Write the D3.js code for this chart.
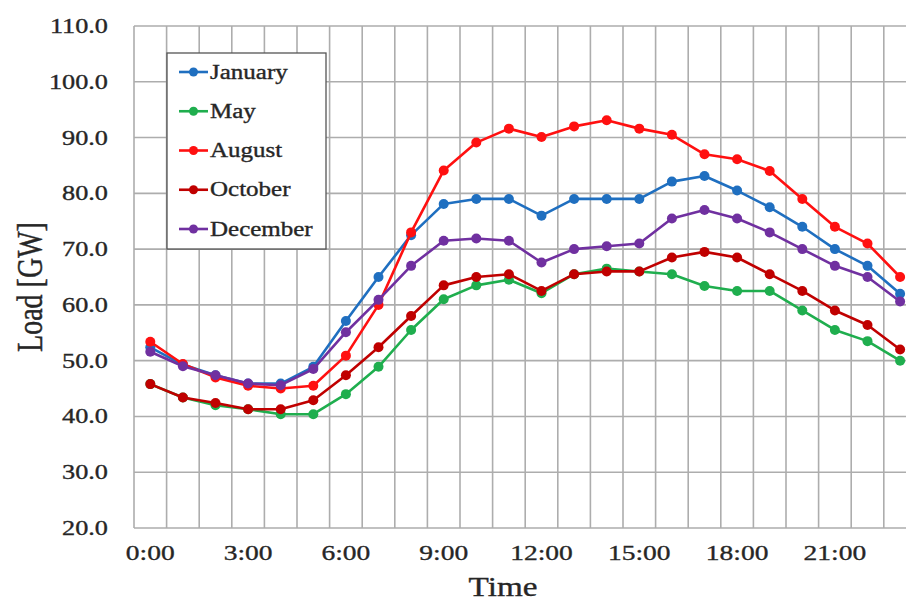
<!DOCTYPE html>
<html>
<head>
<meta charset="utf-8">
<script src="https://cdn.jsdelivr.net/npm/d3@7"></script>
<style>
  html, body { margin: 0; padding: 0; background: #fff; }
  svg { display: block; }
  text { font-family: "Liberation Serif", "Times New Roman", serif; fill: #262626; stroke: #262626; stroke-width: 0.35px; }
</style>
</head>
<body>
<svg id="chart" width="906" height="601"></svg>
<script>
// Hourly load profiles per month (GW)
const hours = d3.range(0, 24);
const hourTicks = [0, 3, 6, 9, 12, 15, 18, 21];
const yTicks = [20, 30, 40, 50, 60, 70, 80, 90, 100, 110];

const january  = [52.4, 49.3, 47.4, 45.9, 45.9, 48.9, 57.1, 65.0, 72.5, 78.1, 79.0, 79.0, 76.0, 79.0, 79.0, 79.0, 82.1, 83.1, 80.5, 77.5, 74.0, 70.0, 67.0, 62.0];
const may      = [45.8, 43.4, 42.0, 41.3, 40.4, 40.4, 44.0, 48.9, 55.5, 61.0, 63.5, 64.5, 62.1, 65.5, 66.5, 66.0, 65.5, 63.4, 62.5, 62.5, 59.0, 55.5, 53.5, 50.0];
const august   = [53.4, 49.4, 47.0, 45.5, 45.0, 45.5, 50.9, 60.0, 73.0, 84.1, 89.1, 91.6, 90.1, 92.0, 93.1, 91.6, 90.5, 87.0, 86.1, 84.0, 79.0, 74.0, 71.0, 65.0];
const october  = [45.8, 43.4, 42.4, 41.3, 41.3, 42.9, 47.4, 52.4, 58.0, 63.5, 65.0, 65.5, 62.5, 65.5, 66.0, 66.0, 68.5, 69.5, 68.5, 65.5, 62.5, 59.0, 56.4, 52.0];
const december = [51.6, 49.0, 47.4, 45.9, 45.6, 48.5, 55.1, 60.9, 67.0, 71.5, 71.9, 71.5, 67.6, 70.0, 70.5, 71.0, 75.5, 77.0, 75.5, 73.0, 70.0, 67.0, 65.0, 60.6];

const seriesNames  = ["January", "May", "August", "October", "December"];
const seriesValues = [january, may, august, october, december];
const seriesColors = ["#1f6fc0", "#1fae4e", "#ff1010", "#c00000", "#7030a0"];

const svg = d3.select("#chart");

const plotLeft = 134, plotTop = 26, plotBottom = 528;
const bandW = 32.6;
const x = d3.scaleBand().domain(hours).range([plotLeft, plotLeft + bandW * hours.length]).padding(0);
const cx = h => x(h) + x.bandwidth() / 2;
const y = d3.scaleLinear().domain([20, 110]).range([plotBottom, plotTop]);

// Text is drawn slightly wide, as in the original export
const SX = 1.25;

// Grid
const grid = svg.append("g").attr("stroke", "#adadad").attr("stroke-width", 1.6);
grid.selectAll("line.h").data(yTicks).join("line")
  .attr("class", "h")
  .attr("x1", plotLeft).attr("x2", x.range()[1])
  .attr("y1", d => y(d)).attr("y2", d => y(d));
const vEdges = hours.map(h => x(h)).concat([x.range()[1]]);
grid.selectAll("line.v").data(vEdges).join("line")
  .attr("class", "v")
  .attr("x1", d => d).attr("x2", d => d)
  .attr("y1", plotTop).attr("y2", plotBottom);

// Y tick labels
svg.append("g").selectAll("text").data(yTicks).join("text")
  .attr("transform", d => `translate(108,${y(d) + 7}) scale(${SX},1)`)
  .attr("text-anchor", "end")
  .attr("font-size", 21)
  .text(d => d3.format(".1f")(d));

// X tick labels
svg.append("g").selectAll("text").data(hourTicks).join("text")
  .attr("transform", d => `translate(${cx(d)},560) scale(${SX},1)`)
  .attr("text-anchor", "middle")
  .attr("font-size", 22)
  .text(d => `${d}:00`);

// Axis titles
svg.append("text")
  .attr("transform", `translate(42,287) scale(${SX},1) rotate(-90)`)
  .attr("text-anchor", "middle")
  .attr("font-size", 28)
  .text("Load [GW]");

svg.append("text")
  .attr("transform", `translate(503,596) scale(1.23,1)`)
  .attr("text-anchor", "middle")
  .attr("font-size", 27)
  .text("Time");

// Series
const line = d3.line().x((d, i) => cx(hours[i])).y(d => y(d));
seriesValues.forEach((vals, k) => {
  const g = svg.append("g");
  g.append("path")
    .attr("d", line(vals))
    .attr("fill", "none")
    .attr("stroke", seriesColors[k])
    .attr("stroke-width", 2.6)
    .attr("stroke-linejoin", "round");
  g.selectAll("circle").data(vals).join("circle")
    .attr("cx", (d, i) => cx(hours[i]))
    .attr("cy", d => y(d))
    .attr("r", 5)
    .attr("fill", seriesColors[k]);
});

// Legend
const legend = svg.append("g");
legend.append("rect")
  .attr("x", 167).attr("y", 53).attr("width", 159).attr("height", 196)
  .attr("fill", "#fff").attr("stroke", "#555").attr("stroke-width", 1.3);
const ly = d3.scalePoint().domain(seriesNames).range([72, 229]);
seriesNames.forEach((name, k) => {
  const yy = ly(name);
  legend.append("line")
    .attr("x1", 179).attr("x2", 208).attr("y1", yy).attr("y2", yy)
    .attr("stroke", seriesColors[k]).attr("stroke-width", 2.6);
  legend.append("circle")
    .attr("cx", 193.5).attr("cy", yy).attr("r", 4.5)
    .attr("fill", seriesColors[k]);
  legend.append("text")
    .attr("transform", `translate(210,${yy + 6.5}) scale(${SX},1)`)
    .attr("font-size", 20)
    .text(name);
});
</script>
</body>
</html>
